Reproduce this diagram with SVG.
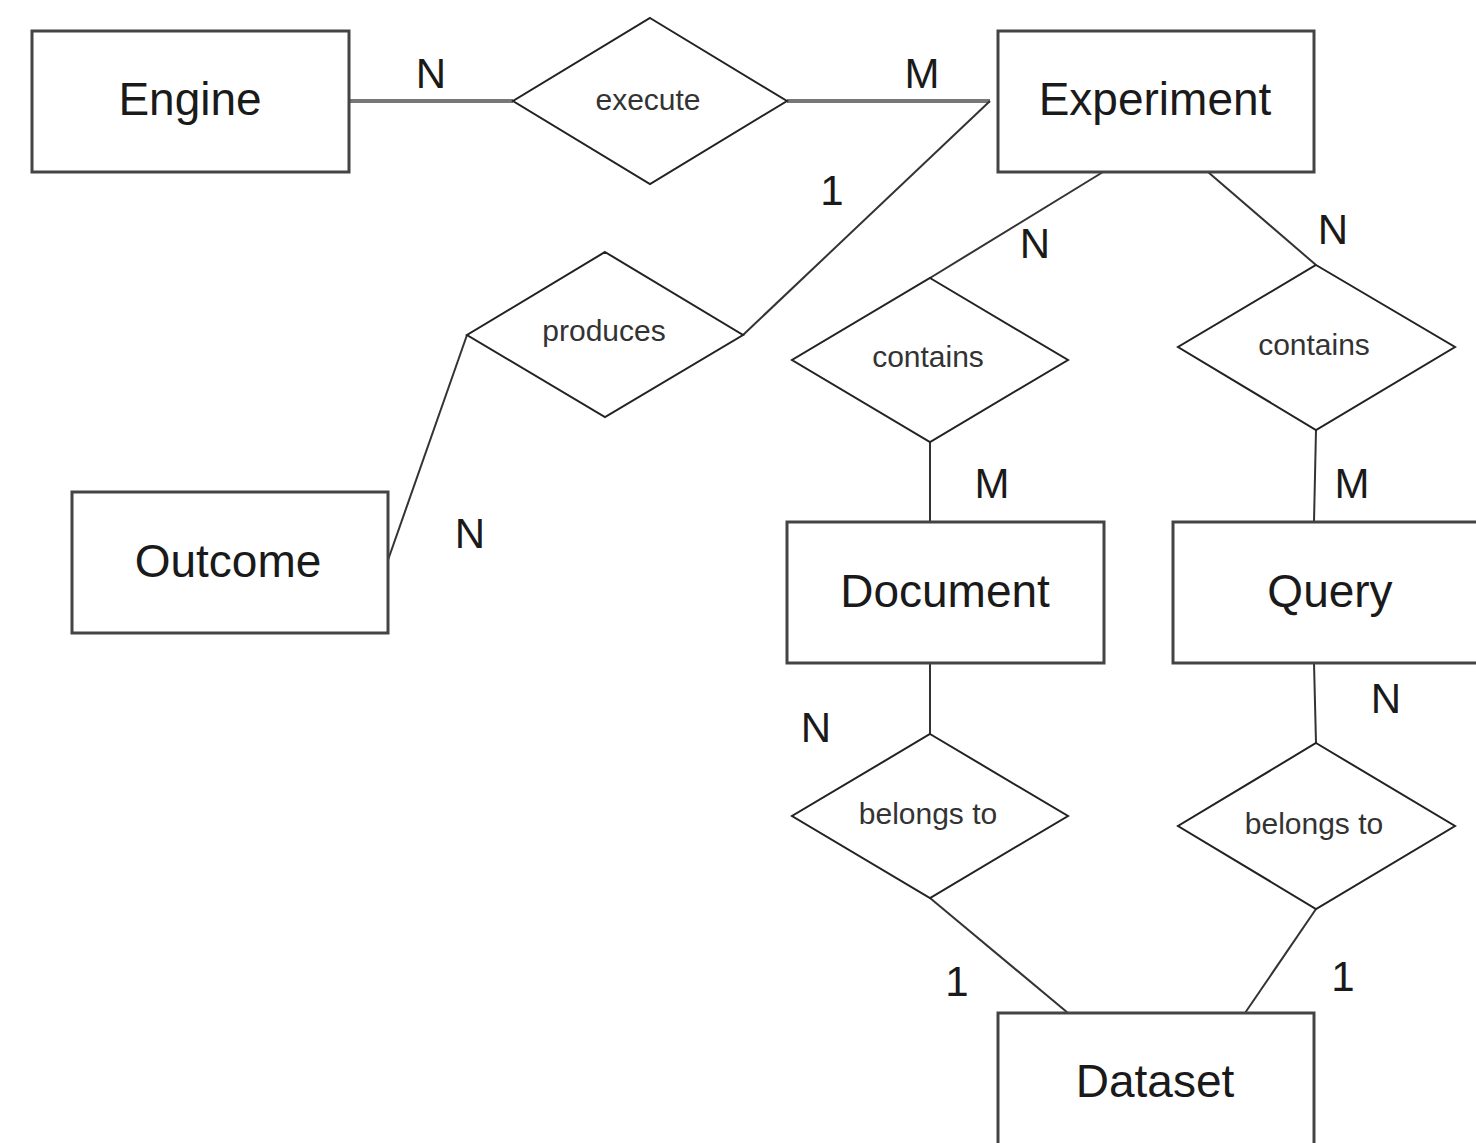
<svg xmlns="http://www.w3.org/2000/svg" width="1476" height="1143" viewBox="0 0 1476 1143">
<style>
.ent{fill:#fff;stroke:#444;stroke-width:3}
.rel{fill:#fff;stroke:#222;stroke-width:2}
.ln{fill:none;stroke:#333;stroke-width:2}
.lnh{fill:none;stroke:#777;stroke-width:4}
.et{font-family:"Liberation Sans",Arial,sans-serif;font-size:46px;fill:#1a1a1a;text-anchor:middle}
.rt{font-family:"Liberation Sans",Arial,sans-serif;font-size:30px;fill:#333;text-anchor:middle}
.ct{font-family:"Liberation Sans",Arial,sans-serif;font-size:42px;fill:#1a1a1a;text-anchor:middle}
</style>
<rect width="1476" height="1143" fill="#fff"/>
<g id="connectors">
<line class="lnh" x1="349" y1="101" x2="513" y2="101"/>
<line class="lnh" x1="787" y1="101" x2="990" y2="101"/>
<line class="ln" x1="990" y1="101" x2="743" y2="335"/>
<line class="ln" x1="467" y1="335" x2="388" y2="560"/>
<line class="ln" x1="1103" y1="172" x2="930" y2="278"/>
<line class="ln" x1="1208" y1="172" x2="1316" y2="265"/>
<line class="ln" x1="930" y1="442" x2="930" y2="522"/>
<line class="ln" x1="1316" y1="430" x2="1314" y2="522"/>
<line class="ln" x1="930" y1="663" x2="930" y2="734"/>
<line class="ln" x1="1314" y1="663" x2="1316" y2="743"/>
<line class="ln" x1="930" y1="898" x2="1068" y2="1013"/>
<line class="ln" x1="1316" y1="909" x2="1245" y2="1013"/>
</g>
<g id="labels">
<text class="ct" x="431" y="88">N</text>
<text class="ct" x="922" y="88">M</text>
<text class="ct" x="832" y="205">1</text>
<text class="ct" x="1035" y="258">N</text>
<text class="ct" x="1333" y="244">N</text>
<text class="ct" x="992" y="498">M</text>
<text class="ct" x="1352" y="498">M</text>
<text class="ct" x="470" y="548">N</text>
<text class="ct" x="816" y="742">N</text>
<text class="ct" x="1386" y="713">N</text>
<text class="ct" x="957" y="996">1</text>
<text class="ct" x="1343" y="991">1</text>
</g>
<g id="engine">
<rect class="ent" x="32" y="31" width="317" height="141"/>
<text class="et" x="190" y="115">Engine</text>
</g>
<g id="experiment">
<rect class="ent" x="998" y="31" width="316" height="141"/>
<text class="et" x="1155" y="115">Experiment</text>
</g>
<g id="outcome">
<rect class="ent" x="72" y="492" width="316" height="141"/>
<text class="et" x="228" y="577">Outcome</text>
</g>
<g id="document">
<rect class="ent" x="787" y="522" width="317" height="141"/>
<text class="et" x="945" y="607">Document</text>
</g>
<g id="query">
<rect class="ent" x="1173" y="522" width="316" height="141"/>
<text class="et" x="1330" y="607">Query</text>
</g>
<g id="dataset">
<rect class="ent" x="998" y="1013" width="316" height="141"/>
<text class="et" x="1155" y="1097">Dataset</text>
</g>
<g id="execute">
<polygon class="rel" points="650,18 787,101 650,184 513,101"/>
<text class="rt" x="648" y="110">execute</text>
</g>
<g id="produces">
<polygon class="rel" points="605,252 743,335 605,417 467,335"/>
<text class="rt" x="604" y="341">produces</text>
</g>
<g id="contains-document">
<polygon class="rel" points="930,278 1068,360 930,442 792,360"/>
<text class="rt" x="928" y="367">contains</text>
</g>
<g id="contains-query">
<polygon class="rel" points="1316,265 1455,347 1316,430 1178,347"/>
<text class="rt" x="1314" y="355">contains</text>
</g>
<g id="belongs-document">
<polygon class="rel" points="930,734 1068,816 930,898 792,816"/>
<text class="rt" x="928" y="824">belongs to</text>
</g>
<g id="belongs-query">
<polygon class="rel" points="1316,743 1455,826 1316,909 1178,826"/>
<text class="rt" x="1314" y="834">belongs to</text>
</g>
</svg>
